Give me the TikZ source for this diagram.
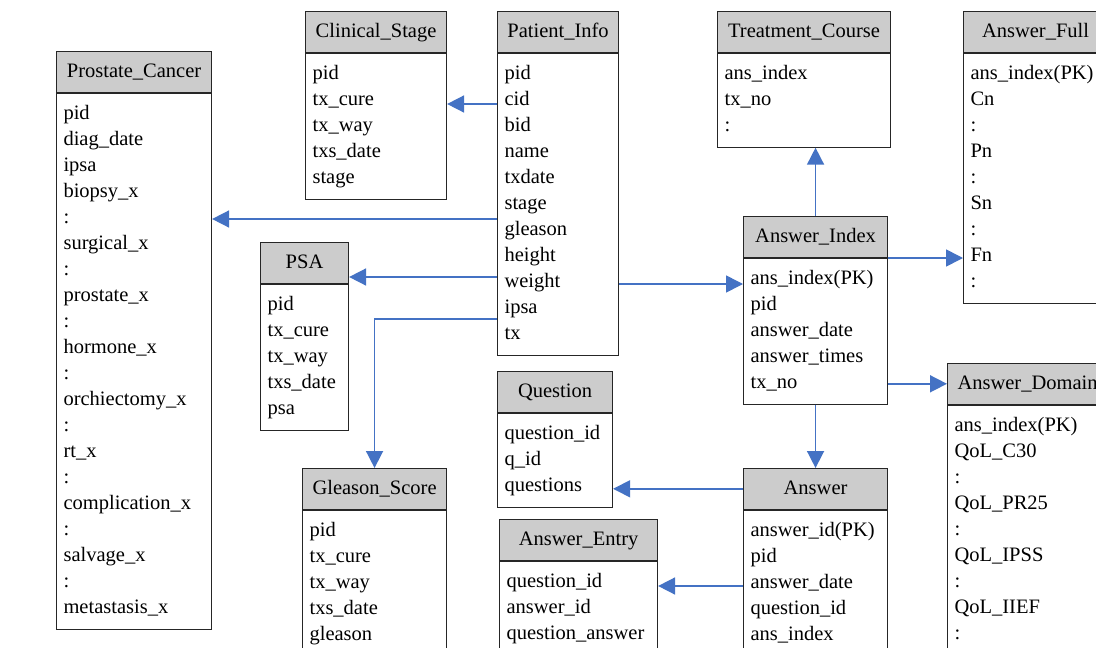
\documentclass[tikz,border=0pt]{standalone}
\usepackage{fontspec}
\setmainfont{Liberation Serif}
\usetikzlibrary{arrows.meta}
\definecolor{linkblue}{RGB}{68,114,196}
\newcommand{\tabfont}{\fontsize{20.5}{26}\selectfont}

\begin{document}
\begin{tikzpicture}[x=1pt, y=-1pt,
		head/.style={draw=black!85, line width=1.1pt, fill=black!20, anchor=north west, minimum height=40.5pt, inner sep=0pt, text height=16pt, text depth=4pt, font=\tabfont},
		body/.style={draw=black!85, line width=1.1pt, fill=white, anchor=north west, align=left, inner xsep=7pt, inner ysep=8pt, font=\tabfont, execute at begin node=\strut, execute at end node=\strut},
		link/.style={draw=linkblue, line width=1.6pt, -{Triangle[length=17pt,width=17pt]}}]
	\useasboundingbox (0,0) rectangle (1096,648);
	\clip (0,0) rectangle (1096,648);
	\fill[white] (0,0) rectangle (1096,648);

	\node[head, minimum width=155pt] (pc) at (56,51) {Prostate\_Cancer};
	\node[body, text width=141pt] (pcb) at (pc.south west) {pid\\diag\_date\\ipsa\\biopsy\_x\\:\\surgical\_x\\:\\prostate\_x\\:\\hormone\_x\\:\\orchiectomy\_x\\:\\rt\_x\\:\\complication\_x\\:\\salvage\_x\\:\\metastasis\_x};

	\node[head, minimum width=141pt] (cs) at (305,11) {Clinical\_Stage};
	\node[body, text width=127pt] (csb) at (cs.south west) {pid\\tx\_cure\\tx\_way\\txs\_date\\stage};

	\node[head, minimum width=121pt] (pinfo) at (497,11) {Patient\_Info};
	\node[body, text width=107pt] (pinfob) at (pinfo.south west) {pid\\cid\\bid\\name\\txdate\\stage\\gleason\\height\\weight\\ipsa\\tx};

	\node[head, minimum width=173pt] (tc) at (717,11) {Treatment\_Course};
	\node[body, text width=159pt] (tcb) at (tc.south west) {ans\_index\\tx\_no\\:};

	\node[head, minimum width=144pt] (af) at (963,11) {Answer\_Full};
	\node[body, text width=130pt] (afb) at (af.south west) {ans\_index(PK)\\Cn\\:\\Pn\\:\\Sn\\:\\Fn\\:};

	\node[head, minimum width=144pt] (ai) at (743,216) {Answer\_Index};
	\node[body, text width=130pt] (aib) at (ai.south west) {ans\_index(PK)\\pid\\answer\_date\\answer\_times\\tx\_no};

	\node[head, minimum width=88pt] (psa) at (260,242) {PSA};
	\node[body, text width=74pt] (psab) at (psa.south west) {pid\\tx\_cure\\tx\_way\\txs\_date\\psa};

	\node[head, minimum width=144pt] (gs) at (302,468) {Gleason\_Score};
	\node[body, text width=130pt] (gsb) at (gs.south west) {pid\\tx\_cure\\tx\_way\\txs\_date\\gleason};

	\node[head, minimum width=115pt] (q) at (497,371) {Question};
	\node[body, text width=101pt] (qb) at (q.south west) {question\_id\\q\_id\\questions};

	\node[head, minimum width=158pt] (ae) at (499,519) {Answer\_Entry};
	\node[body, text width=144pt] (aeb) at (ae.south west) {question\_id\\answer\_id\\question\_answer};

	\node[head, minimum width=144pt] (ans) at (743,468) {Answer};
	\node[body, text width=130pt] (ansb) at (ans.south west) {answer\_id(PK)\\pid\\answer\_date\\question\_id\\ans\_index};

	\node[head, minimum width=160pt] (ad) at (947,363) {Answer\_Domain};
	\node[body, text width=146pt] (adb) at (ad.south west) {ans\_index(PK)\\QoL\_C30\\:\\QoL\_PR25\\:\\QoL\_IPSS\\:\\QoL\_IIEF\\:};

	% links
	\draw[link] (pinfob.west |- 0,104) -- (csb.east |- 0,104);
	\draw[link] (pinfob.west |- 0,219) -- (pcb.east |- 0,219);
	\draw[link] (pinfob.west |- 0,277) -- (psa.east |- 0,277);
	\draw[link] (pinfob.west |- 0,319) -| (gs.north);
	\draw[link] (pinfob.east |- 0,284) -- (aib.west |- 0,284);
	\draw[link] (ai.north) -- (ai.north |- tcb.south);
	\draw[link] (aib.east |- 0,258) -- (afb.west |- 0,258);
	\draw[link] (aib.east |- ad.west) -- (ad.west);
	\draw[link] (aib.south) -- (ans.north);
	\draw[link] (ans.west) -- (qb.east |- ans.west);
	\draw[link] (ansb.west |- 0,586) -- (aeb.east |- 0,586);
\end{tikzpicture}
\end{document}
